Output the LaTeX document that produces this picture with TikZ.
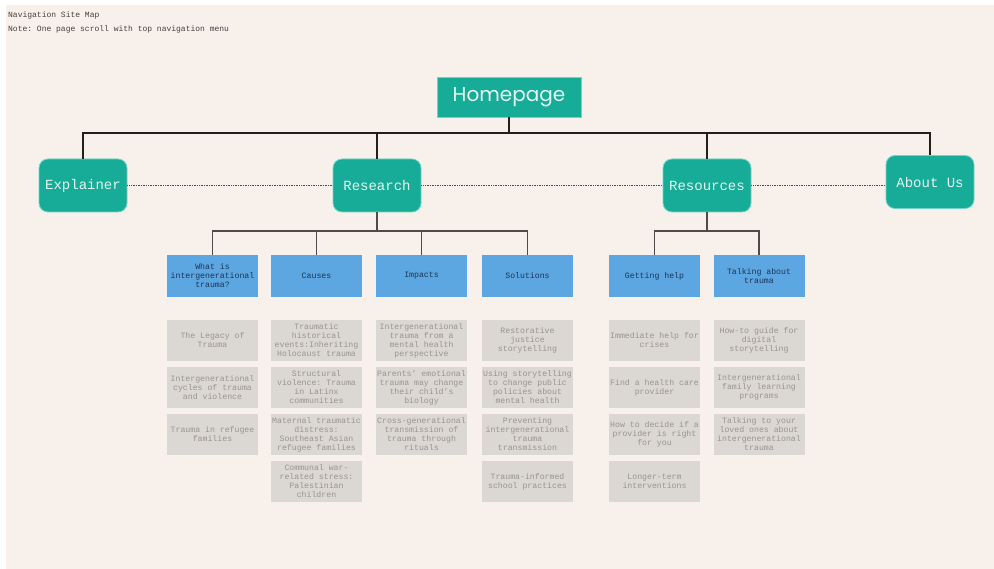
\documentclass[tikz,border=0pt]{standalone}
\usepackage{fontspec}
\setmainfont{Liberation Mono}
\newfontfamily\homefont{Poppins}
\usetikzlibrary{positioning}
\frenchspacing

\definecolor{paper}{HTML}{F8F0EB}
\definecolor{tealbox}{HTML}{17AC98}
\definecolor{tealrim}{HTML}{6ED6C6}
\definecolor{tealtxt}{HTML}{E4F6F1}
\definecolor{sky}{HTML}{5CA6E1}
\definecolor{navy}{HTML}{1E3552}
\definecolor{stone}{HTML}{DBD7D2}
\definecolor{stonetxt}{HTML}{9A948F}
\definecolor{ink}{HTML}{241D1D}

\begin{document}
\begin{tikzpicture}[x=1pt, y=-1pt,
  homebox/.style={fill=tealbox, draw=tealrim, line width=0.6pt, minimum width=144pt, minimum height=40pt,
    inner sep=0pt, text=tealtxt, font=\homefont\fontsize{20}{22}\selectfont},
  hub/.style={fill=tealbox, draw=tealrim, line width=0.8pt, rounded corners=9pt, minimum width=88pt,
    minimum height=53pt, inner sep=0pt, text=tealtxt, font=\fontsize{14}{16}\selectfont},
  sect/.style={fill=sky, minimum width=91pt, minimum height=42pt, inner sep=0pt, text=navy,
    align=center, font=\fontsize{8.2}{9}\selectfont},
  page/.style={fill=stone, minimum width=91pt, minimum height=41pt, inner sep=0pt, text=stonetxt,
    align=center, font=\fontsize{8.2}{9}\selectfont},
  bus/.style={draw=ink, line width=2.4pt},
  twig/.style={draw=ink!80, line width=1.1pt},
  link/.style={draw=ink!80, densely dotted, line width=0.7pt}]
  \useasboundingbox (0,0) rectangle (994,569);
  \fill[white] (0,0) rectangle (994,569);
  \fill[paper] (6,5) rectangle (994,569);

  % header notes
  \node[anchor=west, inner sep=0pt, text=ink!85, font=\fontsize{8}{9}\selectfont] (title) at (8,15) {Navigation Site Map};
  \node[anchor=west, inner sep=0pt, text=ink!85, font=\fontsize{8}{9}\selectfont] (note) at (8,29) {Note: One page scroll with top navigation menu};

  % top level
  \node[homebox] (home) at (509,97) {Homepage};
  \node[hub] (expl) at (83,185.5) {Explainer};
  \node[hub] (res) at (377,185.5) {Research};
  \node[hub] (resc) at (707,185.5) {Resources};
  \node[hub] (about) at (930,182) {About Us};
  \coordinate (hbus) at (509,133);
  \draw[bus] (home) -- (hbus);
  \foreach \n in {expl,res,resc,about}
    \draw[bus] (hbus) -| (\n);
  \draw[link] (expl) -- (res);
  \draw[link] (res) -- (resc);
  \draw[link] (resc.east) -- (resc.east -| about.west);

  % sections
  \node[sect] (what) at (212.5,276) {What is\\intergenerational\\trauma?};
  \node[sect] (cause) at (316.5,276) {Causes};
  \node[sect] (impact) at (421.5,276) {Impacts};
  \node[sect] (solve) at (527.5,276) {Solutions};
  \node[sect] (help) at (654.5,276) {Getting help};
  \node[sect] (talk) at (759,276) {Talking about\\trauma};
  \coordinate (rbus) at (377,231);
  \coordinate (cbus) at (707,231);
  \draw[twig] (res) -- (rbus);
  \foreach \n in {what,cause,impact,solve}
    \draw[twig] (rbus) -| (\n);
  \draw[twig] (resc) -- (cbus);
  \foreach \n in {help,talk}
    \draw[twig] (cbus) -| (\n);

  % pages
  \foreach \t [count=\i] in {{The Legacy of\\Trauma}, {Intergenerational\\cycles of trauma\\and violence},
      {Trauma in refugee\\families}}
    \node[page] (what-\i) at (212.5,{293.5+47*\i}) {\t};
  \foreach \t [count=\i] in {{Traumatic\\historical\\events:Inheriting\\Holocaust trauma},
      {Structural\\violence: Trauma\\in Latinx\\communities},
      {Maternal traumatic\\distress:\\Southeast Asian\\refugee families},
      {Communal war-\\related stress:\\Palestinian\\children}}
    \node[page] (cause-\i) at (316.5,{293.5+47*\i}) {\t};
  \foreach \t [count=\i] in {{Intergenerational\\trauma from a\\mental health\\perspective},
      {Parents' emotional\\trauma may change\\their child's\\biology},
      {Cross-generational\\transmission of\\trauma through\\rituals}}
    \node[page] (impact-\i) at (421.5,{293.5+47*\i}) {\t};
  \foreach \t [count=\i] in {{Restorative\\justice\\storytelling},
      {Using storytelling\\to change public\\policies about\\mental health},
      {Preventing\\intergenerational\\trauma\\transmission},
      {Trauma-informed\\school practices}}
    \node[page] (solve-\i) at (527.5,{293.5+47*\i}) {\t};
  \foreach \t [count=\i] in {{Immediate help for\\crises}, {Find a health care\\provider},
      {How to decide if a\\provider is right\\for you}, {Longer-term\\interventions}}
    \node[page] (help-\i) at (654.5,{293.5+47*\i}) {\t};
  \foreach \t [count=\i] in {{How-to guide for\\digital\\storytelling},
      {Intergenerational\\family learning\\programs},
      {Talking to your\\loved ones about\\intergenerational\\trauma}}
    \node[page] (talk-\i) at (759,{293.5+47*\i}) {\t};
\end{tikzpicture}
\end{document}
